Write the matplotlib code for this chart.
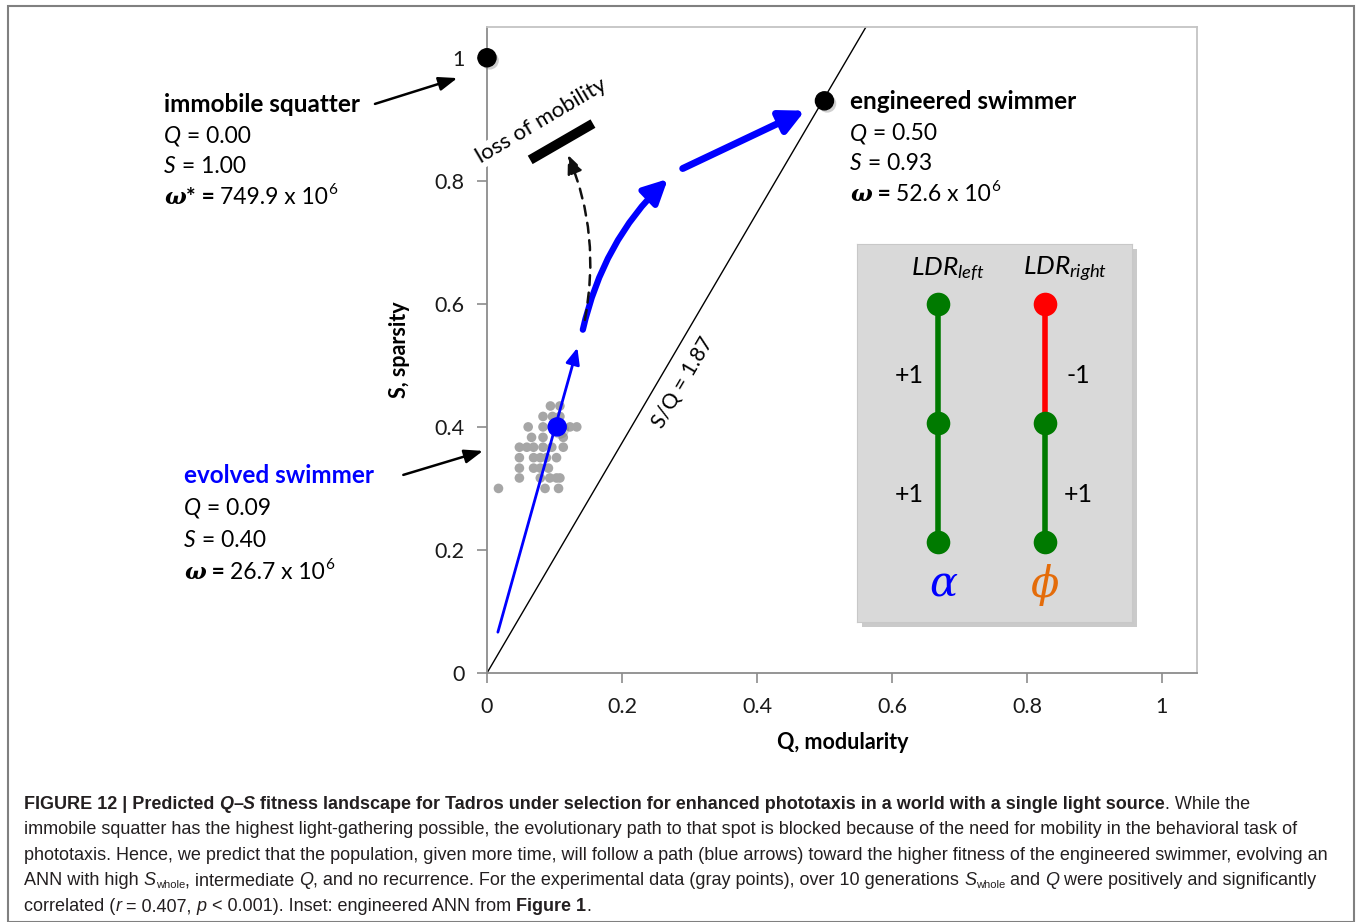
import matplotlib
matplotlib.use('Agg')
import numpy as np
import matplotlib.pyplot as plt
import matplotlib.patheffects as pe
from matplotlib.patches import FancyArrowPatch, Rectangle

plt.rcParams['font.family'] = ['Lato', 'DejaVu Sans']
plt.rcParams['mathtext.fontset'] = 'custom'
plt.rcParams['mathtext.rm'] = 'Lato'
plt.rcParams['mathtext.it'] = 'Lato:italic'

# experimental data (gray points), Q vs S
gray_q = [0.094, 0.108,
          0.083, 0.097, 0.108,
          0.061, 0.083, 0.123, 0.133,
          0.066, 0.083, 0.113,
          0.048, 0.059, 0.069, 0.083, 0.096, 0.113,
          0.048, 0.069, 0.079, 0.088, 0.103,
          0.048, 0.069, 0.079, 0.091,
          0.048, 0.079, 0.093, 0.103, 0.108,
          0.017, 0.086, 0.106]
gray_s = [0.434, 0.434,
          0.417, 0.417, 0.417,
          0.400, 0.400, 0.400, 0.400,
          0.383, 0.383, 0.383,
          0.367, 0.367, 0.367, 0.367, 0.367, 0.367,
          0.350, 0.350, 0.350, 0.350, 0.350,
          0.333, 0.333, 0.333, 0.333,
          0.317, 0.317, 0.317, 0.317, 0.317,
          0.300, 0.300, 0.300]

squatter = (0.0, 1.0)
engineered = (0.50, 0.93)
evolved = (0.104, 0.40)
slope = 1.87

# predicted path (blue arrows) and blocked path
path_thin = [(0.015, 0.062), (0.135, 0.533)]
path_curve = [(0.142, 0.558), (0.268, 0.803)]
path_straight = [(0.290, 0.820), (0.471, 0.914)]
path_blocked = [(0.145, 0.574), (0.120, 0.842)]
barrier = [(0.064, 0.834), (0.157, 0.893)]

ticks = [0, 0.2, 0.4, 0.6, 0.8, 1]
tick_labels = ['0', '0.2', '0.4', '0.6', '0.8', '1']

# inset network: two columns, three node levels
inset_cols = [0, 1]
inset_levels = [2, 1, 0]
left_edges = ['green', 'green']
right_edges = ['red', 'green']
left_weights = ['+1', '+1']
right_weights = ['-1', '+1']

W, H = 1357, 922
fig = plt.figure(figsize=(W / 100, H / 100), dpi=100)
fig.patch.set_facecolor('white')

ax = fig.add_axes([487 / W, 1 - 673 / H, 710 / W, 646 / H])
ax.set_facecolor('none')
ax.set_xlim(0, 1.052)
ax.set_ylim(0, 1.05)
ax.set_xticks(ticks)
ax.set_xticklabels(tick_labels)
ax.set_yticks(ticks)
ax.set_yticklabels(tick_labels)
ax.tick_params(direction='out', length=7, width=1.2, color='#8c8c8c',
               labelsize=15.5, labelcolor='#1a1a1a')
ax.tick_params(axis='x', pad=10)
ax.tick_params(axis='y', pad=9)
for side in ['left', 'bottom']:
    ax.spines[side].set_color('#8c8c8c')
    ax.spines[side].set_linewidth(1.3)
for side in ['top', 'right']:
    ax.spines[side].set_color('#c4c4c4')
    ax.spines[side].set_linewidth(1.3)

shadow = [pe.SimplePatchShadow(offset=(2, -2), shadow_rgbFace='#777777', alpha=0.35), pe.Normal()]

# S/Q line
qline = np.array([0, 1.05 / slope])
ax.plot(qline, slope * qline, color='black', lw=1.0, zorder=2)
ax.text(0.290, 0.472, 'S/Q = 1.87', rotation=59.6, rotation_mode='anchor',
        ha='center', va='center', fontsize=15)

ax.scatter(gray_q, gray_s, s=48, color='#a6a6a6', edgecolors='none', zorder=3)

ax.plot(*squatter, 'o', ms=13, color='black', clip_on=False, zorder=6, path_effects=shadow)
ax.plot(*engineered, 'o', ms=13, color='black', zorder=6, path_effects=shadow)
ax.plot(*evolved, 'o', ms=13, color='#0000ff', zorder=6, path_effects=shadow)

# barrier
bq, bs = zip(*barrier)
ax.plot(bq, bs, color='black', lw=7, solid_capstyle='butt', zorder=6, path_effects=shadow)
ax.text(0.081, 0.897, 'loss of mobility', rotation=30.6, rotation_mode='anchor',
        ha='center', va='center', fontsize=16, zorder=4,
        bbox=dict(facecolor='white', edgecolor='none', pad=1))

ax.add_patch(FancyArrowPatch(path_thin[0], path_thin[1], arrowstyle='-|>,head_length=0.7,head_width=0.3',
                             mutation_scale=14, color='#0000ff', lw=2, zorder=5))
ax.add_patch(FancyArrowPatch(path_curve[0], path_curve[1], connectionstyle='arc3,rad=-0.15',
                             arrowstyle='-|>,head_length=0.8,head_width=0.4', mutation_scale=18,
                             color='#0000ff', lw=4.5, shrinkA=0, shrinkB=0, zorder=5))
ax.add_patch(FancyArrowPatch(path_straight[0], path_straight[1],
                             arrowstyle='-|>,head_length=0.8,head_width=0.4', mutation_scale=18,
                             color='#0000ff', lw=5, shrinkA=0, shrinkB=0, zorder=5))
ax.add_patch(FancyArrowPatch(path_blocked[0], path_blocked[1], connectionstyle='arc3,rad=0.15',
                             arrowstyle='-|>,head_length=0.8,head_width=0.35', mutation_scale=14,
                             color='#111111', lw=1.8, linestyle=(0, (4, 3)), shrinkA=0, shrinkB=0,
                             zorder=5))

# pointer arrows to the labels
ax.annotate('', xy=(-0.044, 0.967), xytext=(-0.166, 0.925), annotation_clip=False,
            arrowprops=dict(arrowstyle='-|>,head_length=0.8,head_width=0.3', color='black',
                            lw=1.8, mutation_scale=14, shrinkA=0, shrinkB=0))
ax.annotate('', xy=(-0.006, 0.361), xytext=(-0.124, 0.322), annotation_clip=False,
            arrowprops=dict(arrowstyle='-|>,head_length=0.8,head_width=0.3', color='black',
                            lw=1.8, mutation_scale=14, shrinkA=0, shrinkB=0))

fig.text(400 / W, 1 - 350 / H, 'S, sparsity', rotation=90, ha='center', va='center',
         fontsize=15.5, fontweight='bold')
fig.text(843 / W, 1 - 742 / H, 'Q, modularity', ha='center', va='center',
         fontsize=15.5, fontweight='bold')

# inset
sh = Rectangle(((857 + 5) / W, 1 - (622 + 5) / H), 275 / W, 378 / H, transform=fig.transFigure,
               facecolor='#a8a8a8', edgecolor='none', alpha=0.6, zorder=0.5)
fig.patches.append(sh)
ins = fig.add_axes([857 / W, 1 - 622 / H, 275 / W, 378 / H], zorder=2)
ins.set_facecolor('#d9d9d9')
for sp in ins.spines.values():
    sp.set_color('#c8c8c8')
ins.set_xticks([])
ins.set_yticks([])
ins.set_xlim(-0.757, 1.813)
ins.set_ylim(-0.672, 2.504)
edge_colors = {'green': '#007a00', 'red': '#ff0000'}
for col, edges in zip(inset_cols, [left_edges, right_edges]):
    for i, ec in enumerate(edges):
        ins.plot([col, col], [inset_levels[i], inset_levels[i + 1]], color=edge_colors[ec],
                 lw=4, solid_capstyle='butt', zorder=2)
for col, edges in zip(inset_cols, [left_edges, right_edges]):
    for i, lev in enumerate(inset_levels):
        c = edge_colors[edges[0]] if i == 0 else edge_colors['green']
        ins.plot(col, lev, 'o', ms=17, color=c, mec='none', zorder=3)
for i in range(2):
    y = (inset_levels[i] + inset_levels[i + 1]) / 2 - 0.1
    ins.text(-0.27, y, left_weights[i], ha='center', va='center', fontsize=18)
    ins.text(1.31, y, right_weights[i], ha='center', va='center', fontsize=18)
ins.text(0.093, 2.29, '$LDR_{left}$', ha='center', va='center', fontsize=19)
ins.text(1.187, 2.29, '$LDR_{right}$', ha='center', va='center', fontsize=19)
ins.text(0.05, -0.36, 'α', ha='center', va='center', fontsize=30, color='#0000ff',
         family='DejaVu Serif', style='italic')
ins.text(1.0, -0.36, 'ϕ', ha='center', va='center', fontsize=30, color='#e46c0a',
         family='DejaVu Serif', style='italic')

# outer border
fig.patches.append(Rectangle((8 / W, 0), 1346 / W, 1 - 6 / H, transform=fig.transFigure,
                             facecolor='none', edgecolor='#808080', lw=1.5, zorder=0.1))

renderer = fig.canvas.get_renderer()


def text_width(s, **kw):
    t = fig.text(0, 0, s, **kw)
    w = t.get_window_extent(renderer=renderer).width
    t.remove()
    return w


def put_runs(x, y, parts, **base):
    for s, kw in parts:
        props = dict(base)
        props.update(kw)
        dy = props.pop('dy', 0)
        fig.text(x / W, 1 - (y + dy) / H, s, ha='left', va='baseline', **props)
        x += text_width(s + '|', **props) - text_width('|', **props)


B = {'fontweight': 'bold'}
I = {'style': 'italic'}
R = {}
OM = {'family': 'DejaVu Serif', 'style': 'italic', 'fontweight': 'bold'}
SUP = {'fontsize': 11, 'dy': -10}


def block(x, ys, title, q, s, omega, star, color):
    put_runs(x, ys[0], [(title, dict(B, color=color))], fontsize=17.5)
    put_runs(x, ys[1], [('Q', I), (' = ' + q, R)], fontsize=16.5)
    put_runs(x, ys[2], [('S', I), (' = ' + s, R)], fontsize=16.5)
    om = [('ω', OM)]
    if star:
        om.append(('*', B))
    om += [(' = ', B), (omega + ' x 10', R), ('6', SUP)]
    put_runs(x, ys[3], om, fontsize=16.5)


block(164, [112, 143, 173, 204], 'immobile squatter', '0.00', '1.00', '749.9', True, 'black')
block(850, [109, 140, 170, 201], 'engineered swimmer', '0.50', '0.93', '52.6', False, 'black')
block(184, [483, 515, 547, 579], 'evolved swimmer', '0.09', '0.40', '26.7', False, '#0000ff')

# caption
cap_lines = [
    'immobile squatter has the highest light-gathering possible, the evolutionary path '
    'to that spot is blocked because of the need for mobility in the behavioral task of',
    'phototaxis. Hence, we predict that the population, given more time, will follow a '
    'path (blue arrows) toward the higher fitness of the engineered swimmer, evolving an',
]
cap_font = 'Liberation Sans'
# size so that the third caption line spans the same width as in the figure
cap_size = 10 * 1309 / text_width(cap_lines[1], family=cap_font, fontsize=10)
cap = dict(family=cap_font, fontsize=cap_size, color='#231f20')
CB = {'fontweight': 'bold'}
CBI = {'fontweight': 'bold', 'style': 'italic'}
CI = {'style': 'italic'}
SUB = {'fontsize': cap_size * 0.62, 'dy': 3}
put_runs(24, 809, [('FIGURE 12 | Predicted ', CB), ('Q', CBI), ('–', CB), ('S', CBI),
                   (' fitness landscape for Tadros under selection for enhanced phototaxis in a world '
                    'with a single light source', CB), ('. While the', R)], **cap)
put_runs(24, 834, [(cap_lines[0], R)], **cap)
put_runs(24, 860, [(cap_lines[1], R)], **cap)
put_runs(24, 885, [('ANN with high ', R), ('S', CI), ('whole', SUB), (', intermediate ', R), ('Q', CI),
                   (', and no recurrence. For the experimental data (gray points), over 10 generations ', R),
                   ('S', CI), ('whole', SUB), (' and ', R), ('Q', CI),
                   (' were positively and significantly', R)], **cap)
put_runs(24, 911, [('correlated (', R), ('r', CI), (' = 0.407, ', R), ('p', CI),
                   (' < 0.001). Inset: engineered ANN from ', R), ('Figure 1', CB), ('.', R)], **cap)

fig.savefig('out.png', dpi=100)
